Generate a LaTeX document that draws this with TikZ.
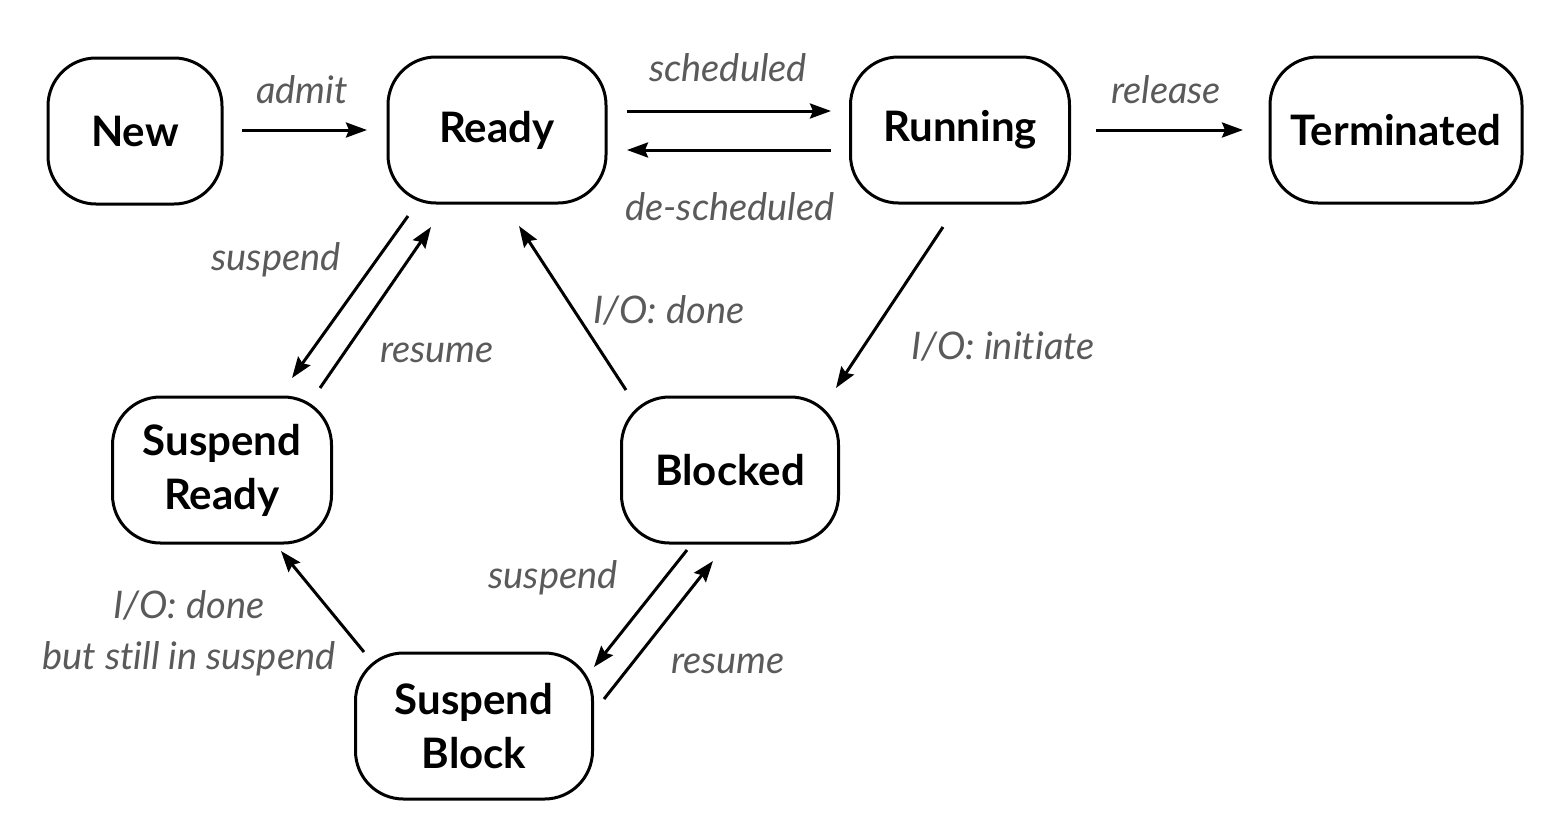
\documentclass[tikz,border=0pt]{standalone}
\usepackage{fontspec}
\setmainfont{Lato}[Ligatures=CommonOff]
\usetikzlibrary{arrows.meta}
\definecolor{lbl}{HTML}{5A5A5A}
\begin{document}
\begin{tikzpicture}[x=1pt,y=-1pt,
  state/.style={draw=black,line width=3pt,rounded corners=48pt,minimum height=146pt,align=center,
    font=\fontsize{42}{54}\selectfont\bfseries,inner sep=0pt},
  lab/.style={text=lbl,font=\fontsize{38}{51}\selectfont\itshape,inner sep=0pt,align=center},
  arr/.style={line width=3pt,-{Stealth[length=21pt,width=15pt,inset=3pt]}}]
\useasboundingbox (0,0) rectangle (1555,815);
\node[state,minimum width=174pt] (new) at (135,131) {New};
\node[state,minimum width=218pt] (ready) at (497,130) {Ready};
\node[state,minimum width=219pt] (running) at (960,130) {Running};
\node[state,minimum width=252pt] (term) at (1396,130) {Terminated};
\node[state,minimum width=219pt] (sready) at (222,470) {Suspend\\Ready};
\node[state,minimum width=217pt] (blocked) at (730,470) {Blocked};
\node[state,minimum width=237pt] (sblock) at (474,726) {Suspend\\Block};
% connector end points
\coordinate (a1) at (242,130); \coordinate (a2) at (367,130);
\coordinate (s1) at (627,111); \coordinate (s2) at (831,111);
\coordinate (d1) at (831,150); \coordinate (d2) at (627,150);
\coordinate (r1) at (1096,130); \coordinate (r2) at (1243,130);
\coordinate (su1) at (408,216); \coordinate (su2) at (292,378);
\coordinate (re1) at (320,388); \coordinate (re2) at (431,227);
\coordinate (io1) at (626,390); \coordinate (io2) at (519,226);
\coordinate (ii1) at (943,227); \coordinate (ii2) at (836,388);
\coordinate (sb1) at (687,550); \coordinate (sb2) at (594,667);
\coordinate (rb1) at (604,699); \coordinate (rb2) at (713,561);
\coordinate (ds1) at (364,652); \coordinate (ds2) at (281,551);
\draw[arr] (a1) -- (a2);
\draw[arr] (s1) -- (s2);
\draw[arr] (d1) -- (d2);
\draw[arr] (r1) -- (r2);
\draw[arr] (su1) -- (su2);
\draw[arr] (re1) -- (re2);
\draw[arr] (io1) -- (io2);
\draw[arr] (ii1) -- (ii2);
\draw[arr] (sb1) -- (sb2);
\draw[arr] (rb1) -- (rb2);
\draw[arr] (ds1) -- (ds2);
\node[lab] (l1) at (302,90) {admit};
\node[lab] (l2) at (728,68) {scheduled};
\node[lab] (l3) at (730,207) {de-scheduled};
\node[lab] (l4) at (1166,90) {release};
\node[lab] (l5) at (276,260) {suspend};
\node[lab] (l6) at (437,353) {resume};
\node[lab] (l7) at (669,310) {I/O: done};
\node[lab] (l8) at (1003,346) {I/O: initiate};
\node[lab] (l9) at (553,578) {suspend};
\node[lab] (l10) at (728,664) {resume};
\node[lab] (l11) at (189,633) {I/O: done\\but still in suspend};
\end{tikzpicture}
\end{document}
